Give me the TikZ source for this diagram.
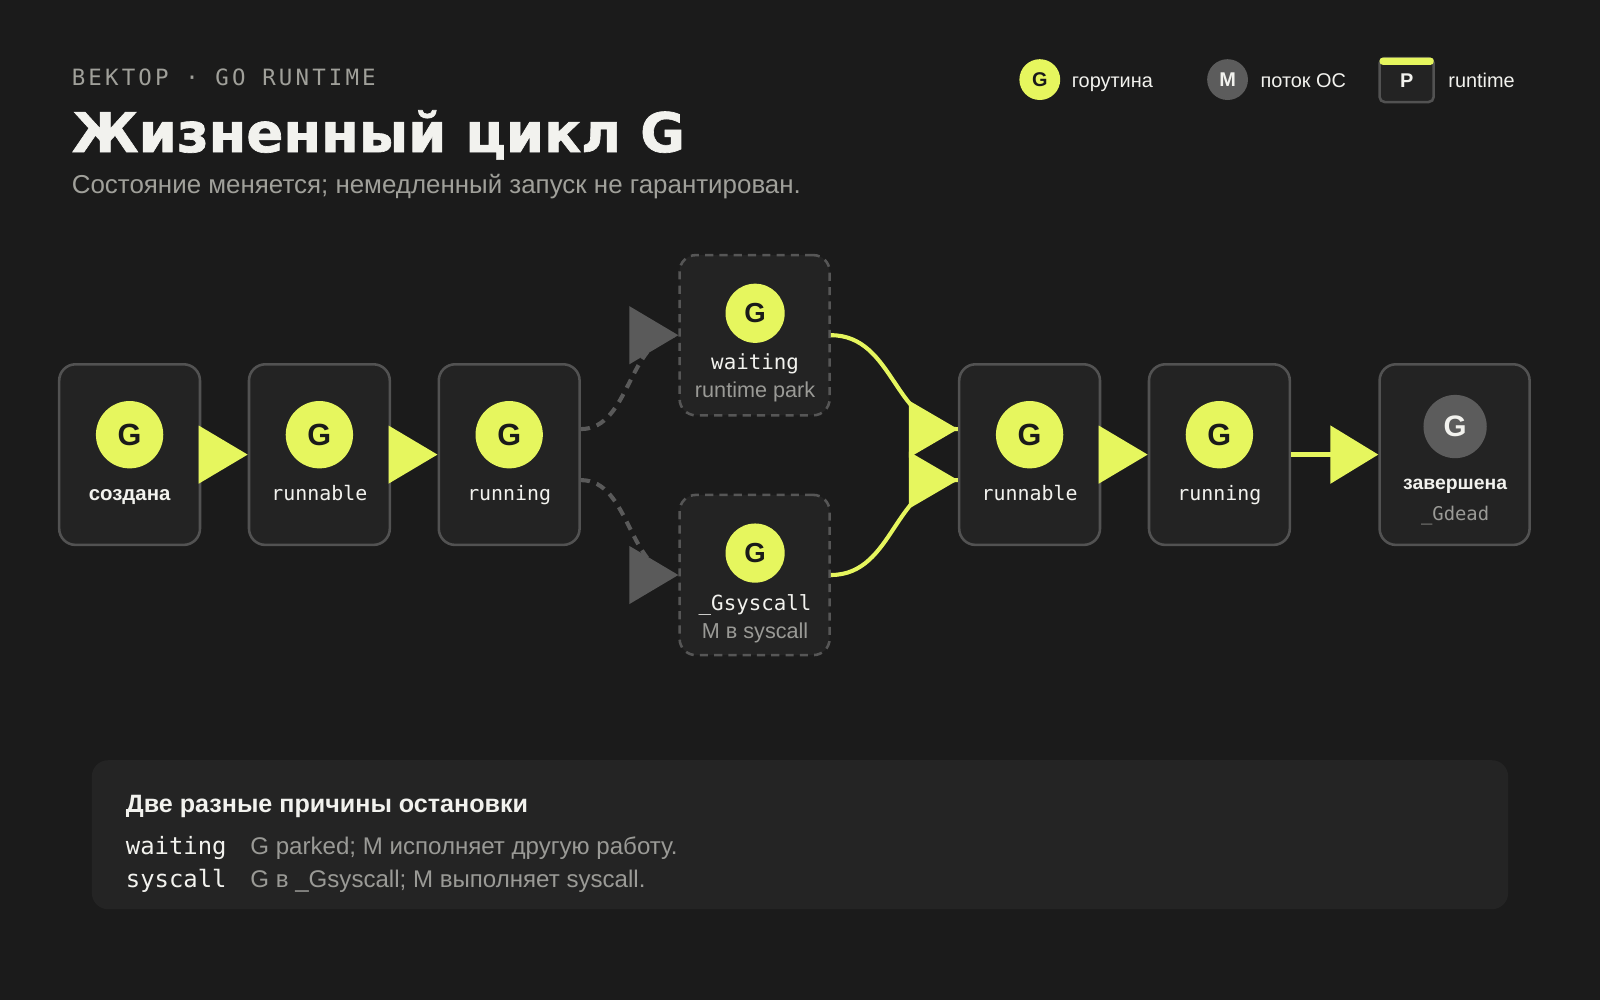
\documentclass[tikz,border=0pt]{standalone}
\usepackage{fontspec}
\setmainfont{Liberation Sans}
\setmonofont{DejaVu Sans Mono}
\newfontfamily\titlefont[FakeBold=1.2]{DejaVu Sans Bold}
\newfontfamily\kickerfont[LetterSpace=14]{DejaVu Sans Mono}
\usetikzlibrary{arrows.meta}
\definecolor{bgc}{HTML}{1B1B1B}
\definecolor{boxfill}{HTML}{232323}
\definecolor{panelfill}{HTML}{242424}
\definecolor{boxline}{HTML}{525252}
\definecolor{dashline}{HTML}{565656}
\definecolor{ycol}{HTML}{E6F65E}
\definecolor{gdark}{HTML}{1A1A1A}
\definecolor{mgray}{HTML}{5C5C5C}
\definecolor{agray}{HTML}{5A5A5A}
\definecolor{txtw}{HTML}{F2F2EE}
\definecolor{txtg}{HTML}{A0A09A}
\definecolor{txtg2}{HTML}{9A9A96}
\begin{document}
\begin{tikzpicture}[x=0.5pt,y=-0.5pt,
  txt/.style={inner sep=0pt, anchor=base, text=txtw},
  statebox/.style={draw=boxline, line width=1.25pt, fill=boxfill, rounded corners=8pt,
    minimum width=69pt, minimum height=88.5pt, inner sep=0pt},
  waitbox/.style={statebox, draw=dashline, dash pattern=on 4pt off 3pt,
    minimum width=73.5pt, minimum height=78.5pt},
  endbox/.style={statebox, minimum width=73.5pt},
  gcirc/.style={circle, fill=ycol, minimum size=33pt, inner sep=0pt,
    text=gdark, font=\bfseries\fontsize{15}{15}\selectfont},
  gcircs/.style={gcirc, minimum size=29pt, font=\bfseries\fontsize{13.5}{13.5}\selectfont},
  monolbl/.style={txt, font=\ttfamily\fontsize{9.75}{10}\selectfont},
  monolbls/.style={txt, font=\ttfamily\fontsize{10.2}{10}\selectfont},
  sublbl/.style={txt, text=txtg2, font=\fontsize{10.6}{11}\selectfont},
  boldlbl/.style={txt, font=\bfseries\fontsize{10}{11}\selectfont},
  legendtxt/.style={txt, anchor=base west, font=\fontsize{9.75}{10}\selectfont},
  yarrow/.style={draw=ycol, line width=2pt, -{Triangle[length=24pt,width=28pt]}},
  ycurve/.style={draw=ycol, line width=2pt},
  gdashcurve/.style={draw=agray, line width=2pt, dash pattern=on 4.5pt off 3.5pt},
]
\useasboundingbox (0,0) rectangle (1568,980);
\fill[bgc] (0,0) rectangle (1568,980);

% header
\node[txt, anchor=base west, text=txtg, font=\kickerfont\fontsize{11}{12}\selectfont] (kicker) at (70,84) {ВЕКТОР · GO RUNTIME};
\node[txt, anchor=base west, font=\titlefont\fontsize{26.75}{28}\selectfont] (title) at (70,149) {Жизненный цикл G};
\node[txt, anchor=base west, text=txtg, font=\fontsize{12.7}{14}\selectfont] (subtitle) at (70,190) {Состояние меняется; немедленный запуск не гарантирован.};

% legend
\node[gcirc, minimum size=20pt, font=\bfseries\fontsize{9.75}{10}\selectfont] (lg) at (1019,78) {G};
\node[legendtxt] (lgt) at (1050,86) {горутина};
\node[circle, fill=mgray, minimum size=20pt, inner sep=0pt, text=txtw, font=\bfseries\fontsize{9.75}{10}\selectfont] (lm) at (1203,78) {M};
\node[legendtxt] (lmt) at (1235,86) {поток ОС};
\node[draw=boxline, line width=1.25pt, fill=boxfill, rounded corners=2.5pt, minimum width=26.5pt, minimum height=21.5pt, inner sep=0pt] (lp) at (1378.5,78.5) {};
\fill[ycol, rounded corners=1.5pt] (1352,56.5) rectangle (1405,63.5);
\node[txt, anchor=center, font=\bfseries\fontsize{9.75}{10}\selectfont] (lpt) at (1378.5,79) {P};
\node[legendtxt] (lptt) at (1419,86) {runtime};

% state boxes
\node[statebox] (b1) at (127,445.5) {};
\node[statebox] (b2) at (313,445.5) {};
\node[statebox] (b3) at (499,445.5) {};
\node[waitbox] (b4) at (739.5,328.5) {};
\node[waitbox] (b5) at (739.5,563.5) {};
\node[statebox] (b6) at (1009,445.5) {};
\node[statebox] (b7) at (1195,445.5) {};
\node[endbox] (b8) at (1425.5,445.5) {};

% circles
\node[gcirc] (c1) at (127,426) {G};
\node[gcirc] (c2) at (313,426) {G};
\node[gcirc] (c3) at (499,426) {G};
\node[gcircs] (c4) at (740,307) {G};
\node[gcircs] (c5) at (740,542) {G};
\node[gcirc] (c6) at (1009,426) {G};
\node[gcirc] (c7) at (1195,426) {G};
\node[gcirc, fill=mgray, text=txtw, minimum size=31pt, font=\bfseries\fontsize{14.5}{15}\selectfont] (c8) at (1426,418) {G};

% labels
\node[boldlbl] (l1) at (127,490) {создана};
\node[monolbl] (l2) at (313,490) {runnable};
\node[monolbl] (l3) at (499,490) {running};
\node[monolbls] (l4) at (740,362) {waiting};
\node[sublbl] (l4b) at (740,390) {runtime park};
\node[monolbls] (l5) at (740,598) {\_Gsyscall};
\node[sublbl] (l5b) at (740,626) {M в syscall};
\node[monolbl] (l6) at (1009,490) {runnable};
\node[monolbl] (l7) at (1195,490) {running};
\node[boldlbl, font=\bfseries\fontsize{9.5}{10}\selectfont] (l8) at (1426,480) {завершена};
\node[monolbl, text=txtg2, font=\ttfamily\fontsize{9.25}{10}\selectfont] (l8b) at (1426,510) {\_Gdead};

% straight arrows
\draw[yarrow] (b1.east) -- (b2.west);
\draw[yarrow] (b2.east) -- (b3.west);
\draw[yarrow] (b6.east) -- (b7.west);
\draw[draw=ycol, line width=2.5pt, -{Triangle[length=23.5pt,width=28pt]}] (b7.east) -- (b8.west);

% dashed branches
\draw[gdashcurve] ([yshift=12.5pt]b3.east) .. controls +(49,0) and +(-49,0) .. (b4.west);
\draw[gdashcurve] ([yshift=-12.5pt]b3.east) .. controls +(49,0) and +(-49,0) .. (b5.west);
\fill[agray] (b4.west) -- ++(-24pt,14.25pt) -- ++(0,-28.5pt) -- cycle;
\fill[agray] (b5.west) -- ++(-24pt,14.25pt) -- ++(0,-28.5pt) -- cycle;

% yellow returns
\draw[ycurve] (b4.east) .. controls +(63,0) and +(-63,0) .. ([yshift=12.5pt]b6.west);
\draw[ycurve] (b5.east) .. controls +(63,0) and +(-63,0) .. ([yshift=-12.5pt]b6.west);
\fill[ycol] ([yshift=12.5pt]b6.west) -- ++(-24pt,14pt) -- ++(0,-28pt) -- cycle;
\fill[ycol] ([yshift=-12.5pt]b6.west) -- ++(-24pt,14pt) -- ++(0,-28pt) -- cycle;

% bottom panel
\node[fill=panelfill, rounded corners=8pt, minimum width=694pt, minimum height=73pt, inner sep=0pt] (panel) at (784,818) {};
\node[txt, anchor=base west, font=\bfseries\fontsize{12.3}{13}\selectfont] (pt) at (123,796) {Две разные причины остановки};
\node[txt, anchor=base west, font=\ttfamily\fontsize{11.7}{12}\selectfont] (pk1) at (123,837) {waiting};
\node[txt, anchor=base west, text=txtg2, font=\fontsize{11.8}{12}\selectfont] (pv1) at (245,837) {G parked; M исполняет другую работу.};
\node[txt, anchor=base west, font=\ttfamily\fontsize{11.7}{12}\selectfont] (pk2) at (123,870) {syscall};
\node[txt, anchor=base west, text=txtg2, font=\fontsize{11.8}{12}\selectfont] (pv2) at (245,870) {G в \_Gsyscall; M выполняет syscall.};
\end{tikzpicture}
\end{document}
